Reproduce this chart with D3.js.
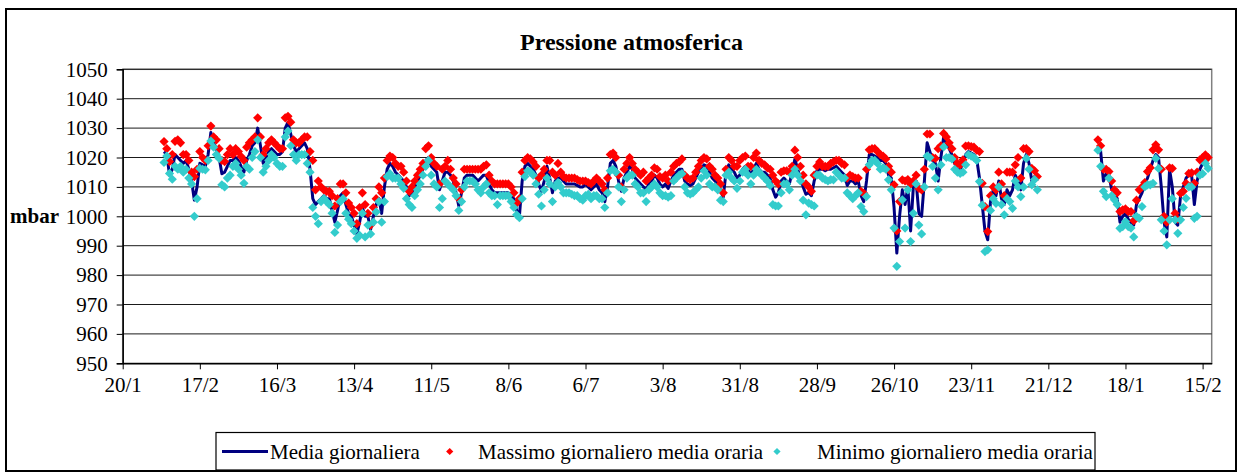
<!DOCTYPE html>
<html><head><meta charset="utf-8">
<script src="https://cdn.jsdelivr.net/npm/d3@7"></script>
<style>
html,body{margin:0;padding:0;background:#fff;}
svg{display:block;font-family:"Liberation Serif","Times New Roman",serif;}
</style></head>
<body>
<svg id="chart" width="1244" height="472"></svg>
<script>
// ---------- DATA ----------
const chartTitle = "Pressione atmosferica";
const yAxisTitle = "mbar";
const xTickLabels = ["20/1","17/2","16/3","13/4","11/5","8/6","6/7","3/8","31/8","28/9","26/10","23/11","21/12","18/1","15/2"];
const xTickStep = 28;          // days between labels
const yTickValues = [950,960,970,980,990,1000,1010,1020,1030,1040,1050];
const firstDay = 15;           // day index (from 20/1) of first value
const seriesNames = ["Media giornaliera","Massimo giornaliero media oraria","Minimo giornaliero media oraria"];
const N = null;

const media = [
1022,1021,1014,1016,1021,1020,1019,1018,1019,1016,
1012,1005.5,1010,1018,1017.5,1017,1021,1028.5,1025,1023,
1020,1014.5,1015,1017,1019,1019,1020,1019,1017,1015,
1019,1021,1024,1025,1030,1024,1018,1020,1022,1023,
1022,1021,1021,1022,1030,1032,1028,1024,1022,1023,
1024,1025,1023,1016,1006,1004,1005,1006,1007,1006,
1006,1002,998,1002,1007,1008,1004,1001,1000,997,
994,998,1003,1000,1000,995.5,1000,1004,1006,1001,
1010,1016,1018,1017,1015,1014,1013,1012,1010,1007,
1008,1010,1012,1014,1016,1019,1020,1017,1016,1015,
1009,1012,1015,1015,1014,1012,1008,1003.5,1008,1013,
1014,1014,1014,1013,1012,1013,1014,1014,1011,1009,
1008,1008,1008,1008,1008,1008,1007,1006,1002,1000,
1012,1017,1018,1017,1016,1014,1011,1008.5,1012,1017,
1013,1008,1012,1013,1013,1012,1011,1011,1011,1011,
1010.5,1010,1010,1011,1010,1009,1010,1011,1009,1008,
1005,1010,1018,1019,1017,1012,1008.5,1013,1015,1017,
1016,1013,1012,1011,1010,1009,1011,1012,1014,1013,
1011,1010,1011,1009.5,1012,1014,1015,1016,1016,1012,
1011,1010.5,1011,1013,1015,1016,1017.5,1017,1015,1013,
1012,1011,1009,1006.5,1015,1017.5,1016,1015,1013,1014,
1016,1017,1016,1014,1016,1018,1016,1015,1015,1014,
1013,1009,1006.5,1008,1012,1013,1012,1011,1015,1019.5,
1016,1013,1010,1007.5,1008,1007,1012,1015.5,1016,1016,
1015.5,1016,1016,1016.5,1017,1016,1015,1014,1010.5,1012,
1012,1011,1012,1007,1005,1012,1021,1021,1020.5,1020,
1019,1019,1018,1014,1013,1003,987.5,1000,1009,1004,
1010,995,1010,1012,1001,1000,1012,1025,1022,1019,
1018,1012,1020,1027,1025,1023,1021,1018,1016,1016,
1018,1021,1022,1021.5,1021,1019.5,1013,1004,995,992,
1005,1009,1007,1012,1006,1004,1009,1007,1009,1014,
1012,1009,1018,1021,1018,1012,1013.5,1012,
N,N,N,N,N,N,N,N,N,N,N,N,N,N,N,N,N,N,N,N,N,
1024,1022,1012,1014.5,1014,1009,1008,1006,998,1000,
1001,999,998,997,1004,1006,1008,1011,1013,1016,
1019,1021,1020,1010,998,993,1016,1010,998,997,
1007,1010,1013,1014,1014,1004,1012,1016,1018,1019,1019
];

const massimo = [
1025.4,1023,1018.6,1021,1025.5,1026,1025,1021,1021,1019,
1015,1013.5,1016,1022,1020,1019,1024,1030.7,1027,1026,
1023,1019,1018.6,1021,1023,1021,1023,1022,1020.3,1019,
1023.5,1025,1026,1027,1033.5,1027,1021,1023,1025,1026,
1025,1024,1023,1023,1033.5,1034,1032,1026,1025,1025,
1026,1027,1027,1022,1019,1009,1012,1010,1009,1008.5,
1008.5,1007,1003.5,1006,1011,1011,1008,1004.5,1003,1001,
997.5,1003,1008,1004,1001,997,1003,1006,1010,1008,
1013,1019,1020.5,1020,1018,1017,1017,1015,1012,1008.5,
1010,1012,1014,1016,1018,1023,1024,1020,1018,1017,
1011,1016,1017,1019,1016,1013,1011,1006,1009,1016,
1016,1016,1016,1016,1016,1016,1017,1017.5,1014,1012,
1011,1011,1011,1011,1011,1011,1010,1008,1004.5,1006,
1015,1019,1020,1019.5,1018.5,1017,1013,1014,1016,1019,
1019,1015,1014,1018,1015,1013.5,1013,1013,1013,1013,
1012.5,1012,1012,1012,1011.5,1011,1012,1013,1012,1011,
1009,1013,1021,1021.5,1020,1014,1010,1016,1018,1020,
1018,1016,1015,1014,1015,1012,1013,1014,1016.5,1016,
1013.5,1013,1014,1012,1015,1017,1018,1018.5,1019.5,1014,
1013,1012.5,1013,1015,1017,1019,1020,1019.5,1017,1016,
1014,1013,1011,1008,1016,1020,1019,1017,1017,1019,
1020,1020.5,1017,1017,1020,1021.5,1019,1018,1017.5,1016.5,
1016,1014,1012,1011,1015,1015.5,1015.5,1015,1017,1022.5,
1020,1017,1014,1011,1010,1008.5,1014,1017,1018.5,1017,
1017,1017,1018,1018.5,1019,1019,1018,1017.5,1013,1014,
1013.5,1013,1013,1008.5,1007.8,1016,1022.6,1023,1023,1022,
1021,1020.5,1019.5,1017,1015,1010.7,995,1005,1012.4,1012,
1012.5,1011,1012,1014,1009.5,1009,1016,1028,1028,1020,
1019.7,1023,1024,1028.2,1027,1025,1023,1020,1018,1017.5,
1019.2,1023.9,1024,1023.7,1023.5,1022.5,1022,1011.2,1003.3,994.8,
1007,1010,1009,1015,1011,1007,1015,1015,1015,1017.5,
1020,1013,1023,1023,1022,1016.3,1015.5,1013.5,
N,N,N,N,N,N,N,N,N,N,N,N,N,N,N,N,N,N,N,N,N,
1026,1024,1016,1016,1015.2,1012,1009,1008,1001.6,1002.2,
1002.5,1001.6,1001.6,998.5,1005.5,1009,1010,1011.5,1015.2,1016.5,
1022.6,1024.3,1022.6,1016,1000,998,1016.5,1016.3,1001,999,
1007.8,1008.5,1011.2,1014.6,1014.8,1011.2,1015,1019.2,1020,1020.9,1020
];

const minimo = [
1018.3,1020.5,1014.6,1012.6,1017,1016,1017,1015,1016,1013,
1011,1000,1006,1016.3,1016,1015.8,1019,1025.6,1023.5,1021,
1019.7,1010.7,1010,1013,1014,1017,1018,1016,1014,1011.2,
1016.9,1016,1020,1022,1026,1020,1015,1017,1019,1021,
1020,1018,1017,1017,1027,1029,1024,1021,1019,1021,
1021,1021,1018,1015,1003,1000,997.5,1005,1006,1005,
1004,1001,994.5,997,1005,1006,1001,999,997.5,995,
992.5,993.5,1001,993,997,994,998,1001.5,1005,998,
1005,1013.5,1014.5,1013,1013,1013,1011,1009.5,1006,1004,
1003,1007,1009,1011,1014,1017,1019,1014,1011,1010,
1003,1006,1012,1011,1010,1009,1007,1002,1005,1010,
1012,1012,1012,1011,1009,1008,1010,1011,1008,1007,
1007,1004,1007,1007,1007,1007,1005,1003,1000.5,999.5,
1006,1013.5,1015.5,1015,1014,1011,1007.5,1003.5,1009,1013,
1011,1005,1010,1011.5,1010,1008,1008,1008,1007.5,1007,
1007,1006,1005.5,1007,1007.5,1006,1007,1007,1006,1006,
1003,1008,1015.5,1016,1015,1010,1005,1009,1013,1014,
1014,1011,1010,1008,1008,1005,1009,1010,1011,1010,
1008,1007,1007,1006.5,1007,1012,1013,1014,1014.5,1010,
1008,1007.5,1008,1009,1010,1013,1015.5,1014,1011,1010,
1010,1009,1005.5,1005,1014,1015,1013,1012,1009.5,1012,
1015,1016,1014,1011,1014,1016,1015,1014,1013,1012,
1010.5,1004,1003.5,1003.5,1008,1011,1011,1009,1014,1016,
1014,1012,1005.5,1000.5,1004.5,1004,1003.5,1014,1014,1013,
1012.5,1012,1012.5,1012.4,1015,1014,1013,1013,1008,1007,
1006,1007,1008,1003.3,1001.6,1006.7,1017.5,1019,1019,1018,
1016,1016.5,1016,1012.4,1009,996,983,991.4,1005.6,996,
1009,991.4,1001,1011,997,994,1010,1020.5,1020,1017,
1013,1009,1017.5,1023.6,1020,1020,1019.5,1016,1015,1014.6,
1015,1017.5,1020.9,1020.5,1020,1019,1011.8,1003.8,988,988.6,
1002,1006,1004.4,1010,1004,1000.5,1006,1005,1002.7,1012,
1010,1006.7,1010,1019.7,1016,1010.7,1012.5,1009,
N,N,N,N,N,N,N,N,N,N,N,N,N,N,N,N,N,N,N,N,N,
1022.5,1017,1008.5,1006.7,1013,1007,1005.6,1004,995.9,996.5,
998.2,996.5,996,993,1000,999.3,1003.3,1010,1010.7,1010.7,
1011.2,1019.7,1016.3,998.8,995,990.3,998.8,1006,998.8,994.2,
998.8,1003,1006.1,1010,1010,999.3,1000,1014,1014.5,1018,1016.3
];

// ---------- LAYOUT ----------
const W = 1244, H = 472;
const plot = {left: 122.7, right: 1211.7, top: 69.3, bottom: 363.3};
const colors = {line: "#000080", max: "#FF0000", min: "#33CCCC"};

const svg = d3.select("#chart");

// outer border
svg.append("rect").attr("x", 6).attr("y", 9).attr("width", 1230).attr("height", 462)
  .attr("fill", "#fff").attr("stroke", "#000").attr("stroke-width", 2);

const nDays = 395.3;
const x = d3.scaleLinear().domain([0, nDays]).range([plot.left, plot.right]);
const y = d3.scaleLinear().domain([950, 1050]).range([plot.bottom, plot.top]);

// plot-area border (grey)
svg.append("rect").attr("x", plot.left).attr("y", plot.top)
  .attr("width", plot.right - plot.left).attr("height", plot.bottom - plot.top)
  .attr("fill", "none").attr("stroke", "#808080").attr("stroke-width", 1.5);

// gridlines
svg.append("g").selectAll("line").data(yTickValues.filter(v => v > 950)).join("line")
  .attr("x1", plot.left).attr("x2", plot.right)
  .attr("y1", d => y(d)).attr("y2", d => y(d))
  .attr("stroke", "#1a1a1a").attr("stroke-width", 1);

// axes
const yAxis = d3.axisLeft(y).tickValues(yTickValues).tickFormat(d3.format("d")).tickSize(6).tickPadding(9);
const gy = svg.append("g").attr("transform", `translate(${plot.left},0)`).call(yAxis);
gy.attr("font-family", null);
gy.select(".domain").attr("stroke", "#000").attr("stroke-width", 1.5);
gy.selectAll(".tick line").attr("stroke", "#000");
gy.selectAll(".tick text").attr("font-size", 21).attr("font-family", "Liberation Serif").attr("fill", "#000");

const xTickDays = xTickLabels.map((_, i) => i * xTickStep);
const xAxis = d3.axisBottom(x).tickValues(xTickDays).tickFormat((d, i) => xTickLabels[i]).tickSize(6).tickPadding(8).tickSizeOuter(0);
const gx = svg.append("g").attr("transform", `translate(0,${plot.bottom})`).call(xAxis);
gx.attr("font-family", null);
gx.select(".domain").attr("stroke", "#000").attr("stroke-width", 1.5);
gx.selectAll(".tick line").attr("stroke", "#000");
gx.selectAll(".tick text").attr("font-size", 21).attr("font-family", "Liberation Serif").attr("fill", "#000");

// axis title
svg.append("text").attr("x", 10).attr("y", y(1000) + 7).text(yAxisTitle)
  .attr("font-size", 21).attr("font-weight", "bold");

// title
svg.append("text").attr("x", 631.5).attr("y", 50).attr("text-anchor", "middle")
  .attr("font-size", 24).attr("font-weight", "bold").text(chartTitle);

// ---------- SERIES ----------
const toPoints = arr => arr.map((v, i) => ({day: firstDay + i, v}));
const pMedia = toPoints(media), pMax = toPoints(massimo), pMin = toPoints(minimo);

const line = d3.line().defined(d => d.v !== null).x(d => x(d.day)).y(d => y(d.v));
svg.append("path").datum(pMedia).attr("d", line)
  .attr("fill", "none").attr("stroke", colors.line).attr("stroke-width", 3).attr("stroke-linejoin", "round");

const diamond = r => `M0,${-r}L${r},0L0,${r}L${-r},0Z`;
svg.append("g").selectAll("path").data(pMax.filter(d => d.v !== null)).join("path")
  .attr("d", diamond(4.6)).attr("transform", d => `translate(${x(d.day)},${y(d.v)})`).attr("fill", colors.max);
svg.append("g").selectAll("path").data(pMin.filter(d => d.v !== null)).join("path")
  .attr("d", diamond(4.6)).attr("transform", d => `translate(${x(d.day)},${y(d.v)})`).attr("fill", colors.min);

// ---------- LEGEND ----------
const lg = svg.append("g");
lg.append("rect").attr("x", 216).attr("y", 432.5).attr("width", 879).attr("height", 37.5)
  .attr("fill", "#fff").attr("stroke", "#000").attr("stroke-width", 1.2);
const ly = 451.5;
lg.append("line").attr("x1", 222).attr("x2", 268).attr("y1", ly).attr("y2", ly)
  .attr("stroke", colors.line).attr("stroke-width", 3);
lg.append("text").attr("x", 270).attr("y", ly + 7).attr("font-size", 21).text(seriesNames[0]);
lg.append("path").attr("d", diamond(3.6)).attr("transform", `translate(449.7,${ly})`).attr("fill", colors.max);
lg.append("text").attr("x", 478).attr("y", ly + 7).attr("font-size", 21).text(seriesNames[1]);
lg.append("path").attr("d", diamond(3.6)).attr("transform", `translate(777,${ly})`).attr("fill", colors.min);
lg.append("text").attr("x", 817).attr("y", ly + 7).attr("font-size", 21).text(seriesNames[2]);
</script>
</body></html>
